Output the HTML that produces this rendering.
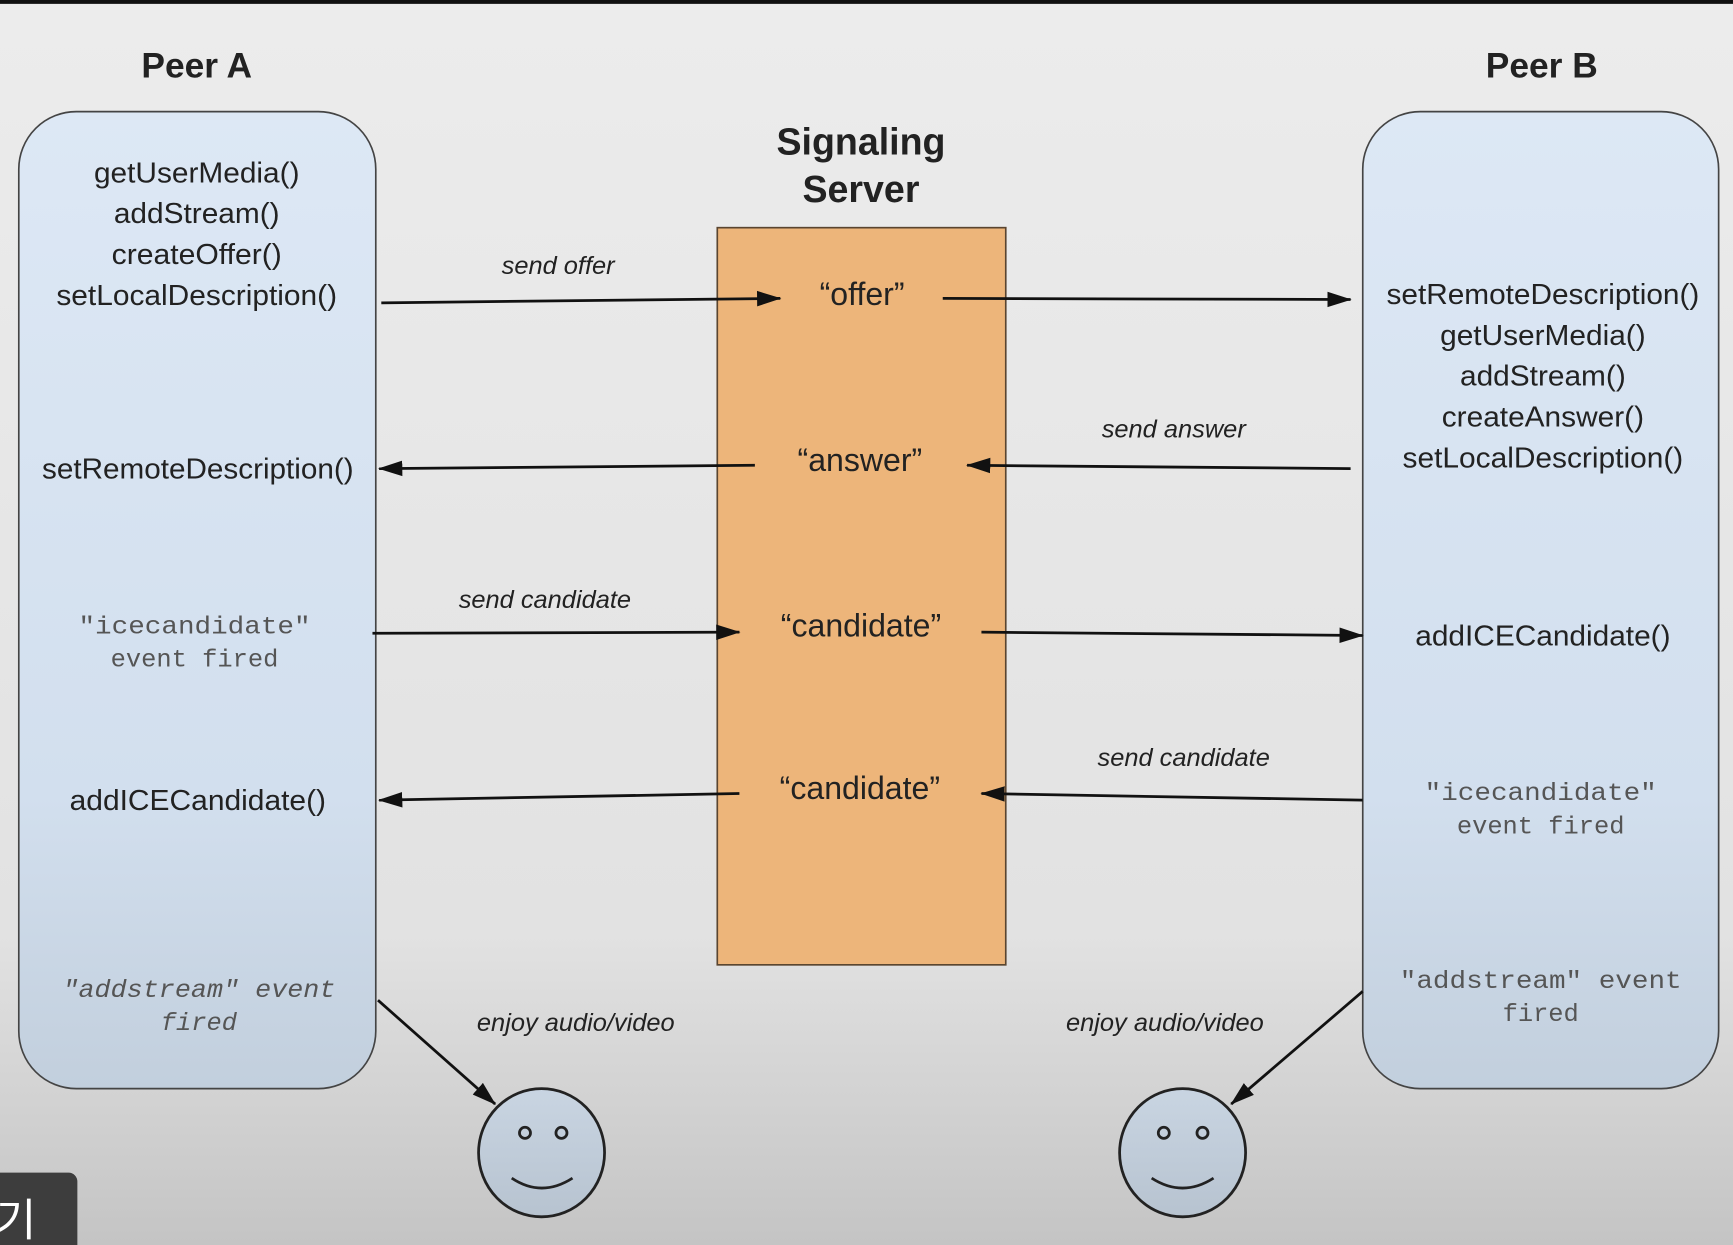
<!DOCTYPE html>
<html><head><meta charset="utf-8"><style>
html,body{margin:0;padding:0;width:1733px;height:1245px;overflow:hidden;}
svg{display:block}
.s{font-family:"Liberation Sans",Arial,sans-serif;fill:#222;}
.m{font-family:"Liberation Mono","Courier New",monospace;fill:#555;}
</style></head><body>
<svg width="1733" height="1245" viewBox="0 0 1568 1126.5" preserveAspectRatio="none" xmlns="http://www.w3.org/2000/svg">
<defs>
<linearGradient id="bg" x1="0" y1="0" x2="0" y2="1"><stop offset="0" stop-color="#ececec"/><stop offset="0.75" stop-color="#e2e2e2"/><stop offset="1" stop-color="#c4c4c4"/></linearGradient>
<linearGradient id="bx" x1="0" y1="0" x2="0" y2="1"><stop offset="0" stop-color="#dde8f5"/><stop offset="0.7" stop-color="#d2dfee"/><stop offset="1" stop-color="#c2cfdd"/></linearGradient>
<linearGradient id="sm" x1="0" y1="0" x2="0" y2="1"><stop offset="0" stop-color="#c9d5e2"/><stop offset="1" stop-color="#b7c3d0"/></linearGradient>
<marker id="a" markerWidth="22" markerHeight="16" refX="21" refY="8" orient="auto" markerUnits="userSpaceOnUse"><path d="M0,1 L22,8 L0,15 z" fill="#111"/></marker>
</defs>
<rect width="1568" height="1127" fill="url(#bg)"/>
<rect width="1568" height="3.5" fill="#111"/>
<text x="178" y="70" class="s" font-size="32" font-weight="bold" text-anchor="middle" fill="#111">Peer A</text>
<text x="1395" y="70" class="s" font-size="32" font-weight="bold" text-anchor="middle" fill="#111">Peer B</text>
<text x="779" y="140" class="s" font-size="34" font-weight="bold" text-anchor="middle" fill="#111">Signaling</text>
<text x="779" y="183" class="s" font-size="34" font-weight="bold" text-anchor="middle" fill="#111">Server</text>
<rect x="17" y="101" width="323" height="884" rx="52" fill="url(#bx)" stroke="#444" stroke-width="1.5"/>
<rect x="1233" y="101" width="322" height="884" rx="52" fill="url(#bx)" stroke="#444" stroke-width="1.5"/>
<rect x="649" y="206" width="261" height="667" fill="#edb57a" stroke="#5a4530" stroke-width="1.5"/>
<g class="s" font-size="26" text-anchor="middle">
<text x="178" y="165" textLength="186" lengthAdjust="spacingAndGlyphs">getUserMedia()</text>
<text x="178" y="202" textLength="150" lengthAdjust="spacingAndGlyphs">addStream()</text>
<text x="178" y="239" textLength="154" lengthAdjust="spacingAndGlyphs">createOffer()</text>
<text x="178" y="276" textLength="254" lengthAdjust="spacingAndGlyphs">setLocalDescription()</text>
<text x="179" y="433" textLength="282" lengthAdjust="spacingAndGlyphs">setRemoteDescription()</text>
<text x="179" y="733" textLength="232" lengthAdjust="spacingAndGlyphs">addICECandidate()</text>
<text x="1396" y="275" textLength="283" lengthAdjust="spacingAndGlyphs">setRemoteDescription()</text>
<text x="1396" y="312" textLength="186" lengthAdjust="spacingAndGlyphs">getUserMedia()</text>
<text x="1396" y="349" textLength="150" lengthAdjust="spacingAndGlyphs">addStream()</text>
<text x="1396" y="386" textLength="183" lengthAdjust="spacingAndGlyphs">createAnswer()</text>
<text x="1396" y="423" textLength="254" lengthAdjust="spacingAndGlyphs">setLocalDescription()</text>
<text x="1396" y="584" textLength="231" lengthAdjust="spacingAndGlyphs">addICECandidate()</text>
<text x="780" y="276" font-size="29">“offer”</text>
<text x="778" y="426" font-size="29">“answer”</text>
<text x="779" y="576" font-size="29">“candidate”</text>
<text x="778" y="723" font-size="29">“candidate”</text>
</g>
<g class="s" font-size="23" font-style="italic" text-anchor="middle" fill="#333">
<text x="505" y="248">send offer</text>
<text x="1062" y="396">send answer</text>
<text x="493" y="550">send candidate</text>
<text x="1071" y="693">send candidate</text>
<text x="521" y="933">enjoy audio/video</text>
<text x="1054" y="933">enjoy audio/video</text>
</g>
<g class="m" font-size="23" text-anchor="middle">
<text x="176" y="573" textLength="210" lengthAdjust="spacingAndGlyphs">"icecandidate"</text>
<text x="176" y="603">event fired</text>
<text x="1394" y="724" textLength="210" lengthAdjust="spacingAndGlyphs">"icecandidate"</text>
<text x="1394" y="754">event fired</text>
<text x="1394" y="894" textLength="255" lengthAdjust="spacingAndGlyphs">"addstream" event</text>
<text x="1394" y="924">fired</text>
<text x="180" y="902" font-style="italic" textLength="247" lengthAdjust="spacingAndGlyphs">"addstream" event</text>
<text x="180" y="932" font-style="italic">fired</text>
</g>
<g stroke="#111" stroke-width="2.5" fill="none">
<line x1="345" y1="274" x2="706" y2="270" marker-end="url(#a)"/>
<line x1="853" y1="270" x2="1222" y2="271" marker-end="url(#a)"/>
<line x1="683" y1="421" x2="343" y2="424" marker-end="url(#a)"/>
<line x1="1222" y1="424" x2="875" y2="421" marker-end="url(#a)"/>
<line x1="337" y1="573" x2="669" y2="572" marker-end="url(#a)"/>
<line x1="888" y1="572" x2="1233" y2="575" marker-end="url(#a)"/>
<line x1="669" y1="718" x2="343" y2="724" marker-end="url(#a)"/>
<line x1="1233" y1="724" x2="888" y2="718" marker-end="url(#a)"/>
<line x1="342" y1="905" x2="448" y2="999" marker-end="url(#a)"/>
<line x1="1233" y1="897" x2="1114" y2="999" marker-end="url(#a)"/>
</g>
<g stroke="#222" stroke-width="2.5" fill="url(#sm)">
<ellipse cx="490" cy="1043" rx="57" ry="58"/>
<ellipse cx="1070" cy="1043" rx="57" ry="58"/>
</g>
<g stroke="#222" stroke-width="2.5" fill="none">
<circle cx="475" cy="1025" r="5"/><circle cx="508" cy="1025" r="5"/>
<path d="M463,1066 Q490,1084 518,1066"/>
<circle cx="1053" cy="1025" r="5"/><circle cx="1088" cy="1025" r="5"/>
<path d="M1042,1066 Q1070,1084 1098,1066"/>
</g>
<rect x="-10" y="1061" width="80" height="80" rx="8" fill="#3d3d3d"/>
<text x="-4" y="1118" font-family="'Noto Sans CJK KR',sans-serif" font-size="40" fill="#fff">기</text>
</svg>
</body></html>
